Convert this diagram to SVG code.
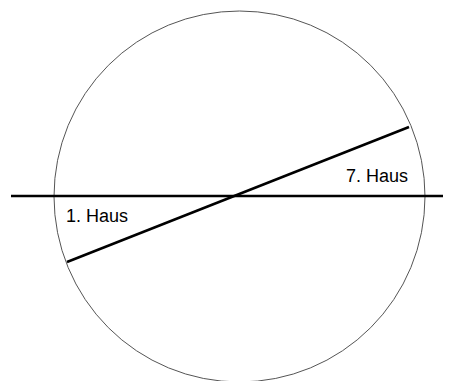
<svg xmlns="http://www.w3.org/2000/svg" width="457" height="381" viewBox="0 0 457 381">
<style>
.lbl{font-family:"Liberation Sans",Arial,sans-serif;font-size:18px;fill:#000}
.thick{stroke:#000;stroke-width:2.5;fill:none}
</style>
<rect width="457" height="381" fill="#fff"/>
<g id="circle"><circle cx="239.5" cy="196.5" r="185.5" fill="none" stroke="#555" stroke-width="1"/></g>
<g id="connectors">
<line class="thick" x1="11" y1="196" x2="443" y2="196"/>
<line class="thick" x1="67" y1="262" x2="409" y2="127"/>
</g>
<g id="haus1"><text class="lbl" x="66" y="222">1. Haus</text></g>
<g id="haus7"><text class="lbl" x="346" y="182">7. Haus</text></g>
</svg>
